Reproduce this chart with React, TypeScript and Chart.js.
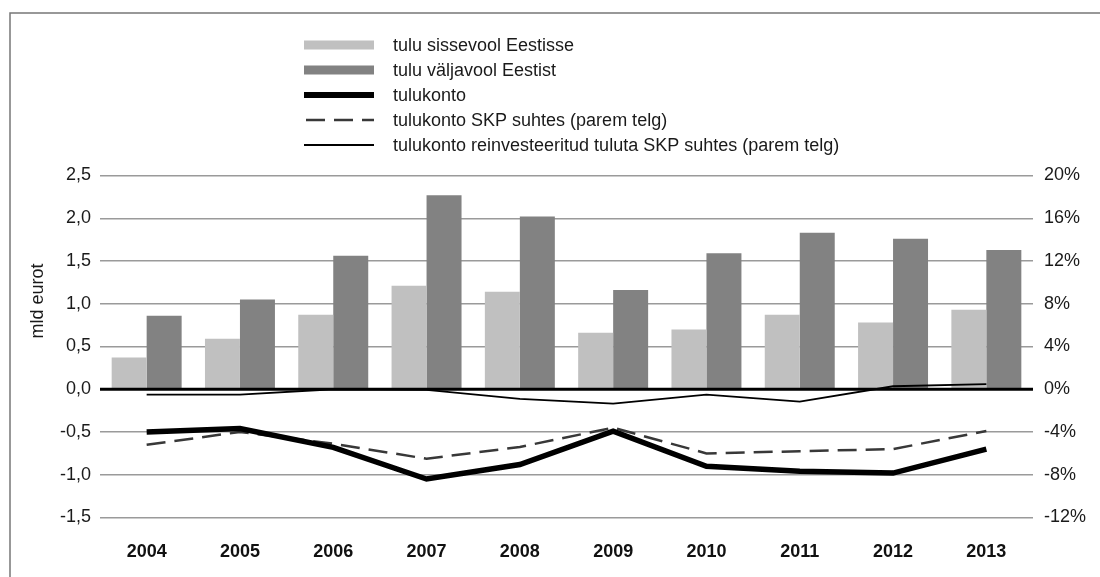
import React, { useEffect, useRef } from "react";
import { Chart, registerables } from "chart.js";

Chart.register(...registerables);

const categories = ["2004", "2005", "2006", "2007", "2008", "2009", "2010", "2011", "2012", "2013"];
const inflow = [0.37, 0.59, 0.87, 1.21, 1.14, 0.66, 0.7, 0.87, 0.78, 0.93];
const outflow = [0.86, 1.05, 1.56, 2.27, 2.02, 1.16, 1.59, 1.83, 1.76, 1.63];
const balance = [-0.5, -0.46, -0.68, -1.05, -0.88, -0.49, -0.9, -0.96, -0.98, -0.7];
const balanceGdp = [-5.2, -4.0, -5.1, -6.5, -5.4, -3.6, -6.0, -5.8, -5.6, -3.9];
const balanceExReinvGdp = [-0.5, -0.5, 0.0, -0.05, -0.9, -1.35, -0.5, -1.15, 0.28, 0.48];

const labels = [
  "tulu sissevool Eestisse",
  "tulu väljavool Eestist",
  "tulukonto",
  "tulukonto SKP suhtes (parem telg)",
  "tulukonto reinvesteeritud tuluta SKP suhtes (parem telg)",
];
const leftTitle = "mld eurot";

const FONT = "'Liberation Sans', Arial, Helvetica, sans-serif";

const decorPlugin = {
  id: "decor",
  beforeDraw(chart: any) {
    const ctx = chart.ctx;
    ctx.save();
    ctx.strokeStyle = "#777";
    ctx.lineWidth = 1.5;
    ctx.beginPath();
    ctx.moveTo(10, chart.height);
    ctx.lineTo(10, 13);
    ctx.lineTo(chart.width, 13);
    ctx.stroke();
    ctx.restore();
  },
  afterDatasetDraw(chart: any, args: any) {
    if (args.index !== 0) return;
    const ctx = chart.ctx;
    const y = chart.scales.y.getPixelForValue(0);
    ctx.save();
    ctx.strokeStyle = "#000";
    ctx.lineWidth = 3;
    ctx.beginPath();
    ctx.moveTo(chart.chartArea.left, y);
    ctx.lineTo(chart.chartArea.right, y);
    ctx.stroke();
    ctx.restore();
  },
  afterDraw(chart: any) {
    const ctx = chart.ctx;
    ctx.save();
    // left axis title
    ctx.fillStyle = "#1a1a1a";
    ctx.font = `18px ${FONT}`;
    ctx.textAlign = "center";
    ctx.textBaseline = "middle";
    ctx.translate(38, 301);
    ctx.rotate(-Math.PI / 2);
    ctx.fillText(leftTitle, 0, 0);
    ctx.restore();

    // legend
    ctx.save();
    const x0 = 304;
    const x1 = 374;
    const tx = 393;
    chart.data.datasets.forEach((ds: any, i: number) => {
      const y = 45 + i * 25;
      if (ds.type === "bar" || !ds.type) {
        ctx.fillStyle = ds.backgroundColor;
        ctx.fillRect(x0, y - 4.5, x1 - x0, 9);
      } else {
        ctx.strokeStyle = ds.borderColor;
        ctx.lineWidth = ds.legendWidth;
        ctx.setLineDash(ds.borderDash || []);
        ctx.beginPath();
        ctx.moveTo(x0 + (ds.borderDash ? 2 : 0), y);
        ctx.lineTo(x1, y);
        ctx.stroke();
        ctx.setLineDash([]);
      }
      ctx.fillStyle = "#1a1a1a";
      ctx.font = `18px ${FONT}`;
      ctx.textAlign = "left";
      ctx.textBaseline = "middle";
      ctx.fillText(ds.label, tx, y + 1);
    });
    ctx.restore();
  },
};

export default function App() {
  const ref = useRef<HTMLCanvasElement | null>(null);

  useEffect(() => {
    document.body.style.margin = "0";
    const canvas = ref.current;
    if (!canvas) return;
    const chart = new Chart(canvas, {
      type: "bar",
      data: {
        labels: categories,
        datasets: [
          {
            type: "bar",
            label: labels[0],
            data: inflow,
            backgroundColor: "#c0c0c0",
            yAxisID: "y",
            order: 1,
            categoryPercentage: 0.75,
            barPercentage: 1.0,
          },
          {
            type: "bar",
            label: labels[1],
            data: outflow,
            backgroundColor: "#828282",
            yAxisID: "y",
            order: 1,
            categoryPercentage: 0.75,
            barPercentage: 1.0,
          },
          {
            type: "line",
            label: labels[2],
            data: balance,
            borderColor: "#000",
            borderWidth: 5.5,
            legendWidth: 6,
            pointRadius: 0,
            tension: 0,
            yAxisID: "y",
            order: 0,
          } as any,
          {
            type: "line",
            label: labels[3],
            data: balanceGdp,
            borderColor: "#383838",
            borderWidth: 2.5,
            legendWidth: 2.5,
            borderDash: [19, 9],
            pointRadius: 0,
            tension: 0,
            yAxisID: "y1",
            order: 0,
          } as any,
          {
            type: "line",
            label: labels[4],
            data: balanceExReinvGdp,
            borderColor: "#000",
            borderWidth: 1.8,
            legendWidth: 2,
            pointRadius: 0,
            tension: 0,
            yAxisID: "y1",
            order: 0,
          } as any,
        ],
      },
      options: {
        responsive: false,
        animation: false,
        devicePixelRatio: 1,
        layout: { padding: { top: 175.5, left: 0, right: 0, bottom: 0 } },
        plugins: {
          legend: { display: false },
          tooltip: { enabled: false },
          title: { display: false },
        },
        scales: {
          x: {
            offset: true,
            grid: { display: false, drawTicks: false },
            border: { display: false },
            ticks: {
              color: "#111",
              font: { family: FONT, size: 18, weight: "bold" },
              padding: 24,
              maxRotation: 0,
            },
            afterFit: (s: any) => {
              s.height = 59.5;
            },
          },
          y: {
            position: "left",
            min: -1.5,
            max: 2.5,
            grid: {
              color: (c: any) => (c.tick && c.tick.value === 0 ? "rgba(0,0,0,0)" : "#9a9a9a"),
              lineWidth: 1.5,
              drawTicks: false,
            },
            border: { display: false },
            ticks: {
              stepSize: 0.5,
              color: "#1a1a1a",
              font: { family: FONT, size: 18 },
              padding: 9,
              callback: (v: any) => Number(v).toFixed(1).replace(".", ","),
            },
            afterFit: (s: any) => {
              s.width = 100;
            },
          },
          y1: {
            position: "right",
            min: -12,
            max: 20,
            grid: { display: false, drawTicks: false },
            border: { display: false },
            ticks: {
              stepSize: 4,
              color: "#1a1a1a",
              font: { family: FONT, size: 18 },
              padding: 11,
              callback: (v: any) => `${v}%`,
            },
            afterFit: (s: any) => {
              s.width = 67;
            },
          },
        },
      },
      plugins: [decorPlugin],
    });
    return () => chart.destroy();
  }, []);

  return (
    <div style={{ position: "absolute", left: 0, top: 0, width: 1100, height: 577, background: "#fff" }}>
      <canvas ref={ref} width={1100} height={577} style={{ display: "block" }} />
    </div>
  );
}
